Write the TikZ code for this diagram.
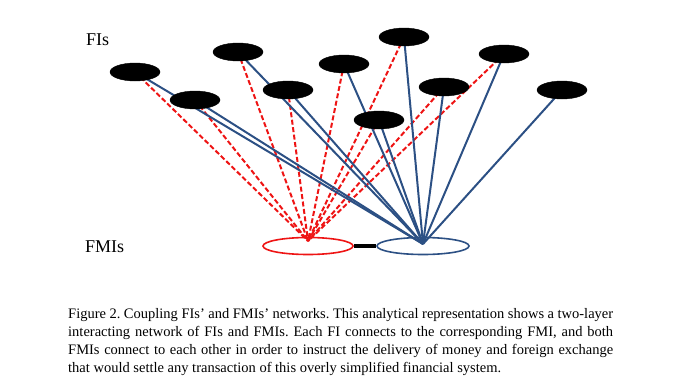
\documentclass[tikz,border=0pt]{standalone}
\usepackage{fontspec}
\setmainfont{Liberation Serif}
\usetikzlibrary{shapes.geometric,backgrounds}
\definecolor{fmiblue}{RGB}{44,80,132}
\definecolor{fmired}{RGB}{238,20,20}
\tikzset{
  fi/.style={ellipse,fill=black,draw=black,minimum width=50pt,minimum height=18pt,inner sep=0pt},
  fmi/.style={ellipse,line width=1.6pt,minimum width=90pt,minimum height=17pt,inner sep=0pt},
  redlink/.style={draw=fmired,line width=2pt,dash pattern=on 5pt off 2.5pt},
  bluelink/.style={draw=fmiblue,line width=2pt},
  lbl/.style={font=\fontsize{18}{20}\selectfont,anchor=base west,inner sep=0pt},
  captext/.style={font=\fontsize{14.5}{18}\selectfont\frenchspacing,anchor=base west,inner sep=0pt}
}
\begin{document}
\begin{tikzpicture}[x=1pt,y=-1pt]
\useasboundingbox (0,0) rectangle (700,388);
% FI nodes
\node[fi] (f1) at (135,72) {};
\node[fi] (f2) at (238,52) {};
\node[fi] (f3) at (195,100) {};
\node[fi] (f4) at (288,90) {};
\node[fi] (f5) at (344,64) {};
\node[fi] (f6) at (404,37) {};
\node[fi] (f7) at (444,87) {};
\node[fi] (f8) at (504,54) {};
\node[fi] (f9) at (562,90) {};
\node[fi] (f10) at (379,120) {};
% FMI nodes
\node[fmi,draw=fmired] (mr) at (308,246) {};
\node[fmi,draw=fmiblue,minimum width=92pt] (mb) at (423,246) {};
\coordinate (rc) at (308,241);
\coordinate (bc) at (423,244);
\begin{pgfonlayer}{background}
\foreach \f in {f1,f2,f3,f4,f5,f6,f7,f8,f10}{
  \draw[redlink] (\f.center) -- (rc);
}
\foreach \f in {f1,f2,f3,f4,f5,f6,f7,f8,f9,f10}{
  \draw[bluelink] (\f.center) -- (bc);
}
\end{pgfonlayer}
\draw[line width=4pt,black] (mr.east) -- (mb.west);
% labels
\node[lbl] (lfi) at (86,45) {FIs};
\node[lbl] (lfmi) at (85,252) {FMIs};
% caption
\node[captext] (c1) at (68,318) {\makebox[545pt][s]{Figure 2. Coupling FIs’ and FMIs’ networks. This analytical representation shows a two-layer}};
\node[captext] (c2) at (68,336) {\makebox[545pt][s]{interacting network of FIs and FMIs. Each FI connects to the corresponding FMI, and both}};
\node[captext] (c3) at (68,354) {\makebox[545pt][s]{FMIs connect to each other in order to instruct the delivery of money and foreign exchange}};
\node[captext] (c4) at (68,372) {that would settle any transaction of this overly simplified financial system.};
\end{tikzpicture}
\end{document}
